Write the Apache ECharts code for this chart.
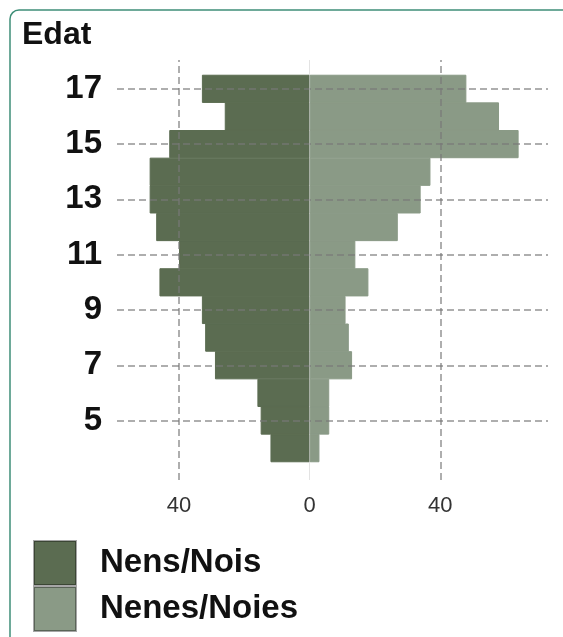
<!DOCTYPE html>
<html>
<head>
<meta charset="utf-8">
<script src="https://cdn.jsdelivr.net/npm/echarts@6/dist/echarts.min.js"></script>
<style>
  html, body { margin: 0; padding: 0; background: #fff; }
  #chartDiv { width: 563px; height: 637px; }
</style>
</head>
<body>
<div id="chartDiv"></div>
<script>
// edats (eix vertical) i etiquetes visibles
var ages = ['4', '5', '6', '7', '8', '9', '10', '11', '12', '13', '14', '15', '16', '17'];
var ageLabels = ['5', '7', '9', '11', '13', '15', '17'];
var xTicks = [-40, 0, 40];

// recomptes per edat (de 4 a 17)
var boys = [12, 15, 16, 29, 32, 33, 46, 40, 47, 49, 49, 43, 26, 33];
var girls = [3, 6, 6, 13, 12, 11, 18, 14, 27, 34, 37, 64, 58, 48];

var darkGreen = '#5b6c51';
var lightGreen = '#8a9a86';
var gridLine = 'rgba(120,120,120,0.6)';
var font = 'Liberation Sans, Arial, sans-serif';

var chart = echarts.init(document.getElementById('chartDiv'));

var option = {
    animation: false,
    title: {
        text: 'Edat',
        left: 22,
        top: 19,
        padding: 0,
        textStyle: { fontSize: 32, fontWeight: 'bold', color: '#111', fontFamily: font }
    },
    legend: {
        orient: 'vertical',
        left: 33,
        top: 540,
        padding: 0,
        itemWidth: 42,
        itemHeight: 44,
        itemGap: 0,
        icon: 'rect',
        data: ['Nens/Nois', 'Nenes/Noies'],
        itemStyle: { borderColor: 'rgba(0,0,0,0.35)', borderWidth: 2 },
        textStyle: { fontSize: 33, fontWeight: 'bold', color: '#111', fontFamily: font, padding: [0, 0, 0, 19] }
    },
    grid: [
        // barres
        { left: 117, right: 15, top: 75, bottom: 175 },
        // línies verticals i etiquetes de l'eix x
        { left: 117, right: 15, top: 60, bottom: 157 }
    ],
    xAxis: [
        {
            type: 'value', gridIndex: 0, min: -59, max: 73,
            axisLine: { show: false }, axisTick: { show: false },
            axisLabel: { show: false }, splitLine: { show: false }
        },
        {
            type: 'value', gridIndex: 1, min: -59, max: 73,
            axisLine: { show: false },
            axisTick: { show: false, customValues: xTicks },
            splitLine: { show: false },
            axisLabel: {
                customValues: xTicks,
                margin: 15,
                fontSize: 22,
                color: '#333',
                fontFamily: font,
                formatter: function (v) { return Math.abs(v); }
            }
        }
    ],
    yAxis: [
        {
            type: 'category', gridIndex: 0, data: ages,
            axisLine: { show: false }, axisTick: { show: false },
            splitLine: { show: false },
            axisLabel: {
                interval: function (idx, val) { return ageLabels.indexOf(val) >= 0; },
                margin: 15,
                fontSize: 33,
                fontWeight: 'bold',
                color: '#111',
                fontFamily: font
            }
        },
        {
            type: 'value', gridIndex: 1, min: 0, max: 1, show: false
        }
    ],
    series: [
        {
            name: 'Nens/Nois',
            type: 'bar',
            xAxisIndex: 0, yAxisIndex: 0,
            barWidth: '102%',
            barGap: '-100%',
            itemStyle: { color: darkGreen, borderColor: darkGreen, borderWidth: 1 },
            data: boys.map(function (v) { return -v; }),
            markLine: {
                silent: true,
                symbol: 'none',
                label: { show: false },
                lineStyle: { color: gridLine, type: [7, 4], width: 2 },
                data: ageLabels.map(function (a) { return { yAxis: a }; })
            }
        },
        {
            name: 'Nenes/Noies',
            type: 'bar',
            xAxisIndex: 0, yAxisIndex: 0,
            barWidth: '102%',
            barGap: '-100%',
            itemStyle: { color: lightGreen, borderColor: lightGreen, borderWidth: 1 },
            data: girls
        },
        {
            name: 'grid',
            type: 'line',
            xAxisIndex: 1, yAxisIndex: 1,
            data: [],
            markLine: {
                silent: true,
                symbol: 'none',
                label: { show: false },
                data: xTicks.map(function (t) {
                    if (t === 0) {
                        return { xAxis: t, lineStyle: { color: 'rgba(200,200,200,0.5)', type: 'solid', width: 1 } };
                    }
                    return { xAxis: t, lineStyle: { color: gridLine, type: [7, 4], width: 2 } };
                })
            }
        }
    ],
    graphic: [{
        type: 'rect',
        shape: { x: 10, y: 10, width: 700, height: 800, r: 9 },
        style: { fill: 'none', stroke: '#3f8f78', lineWidth: 1.5 },
        silent: true
    }]
};
chart.setOption(option);
</script>
</body>
</html>
